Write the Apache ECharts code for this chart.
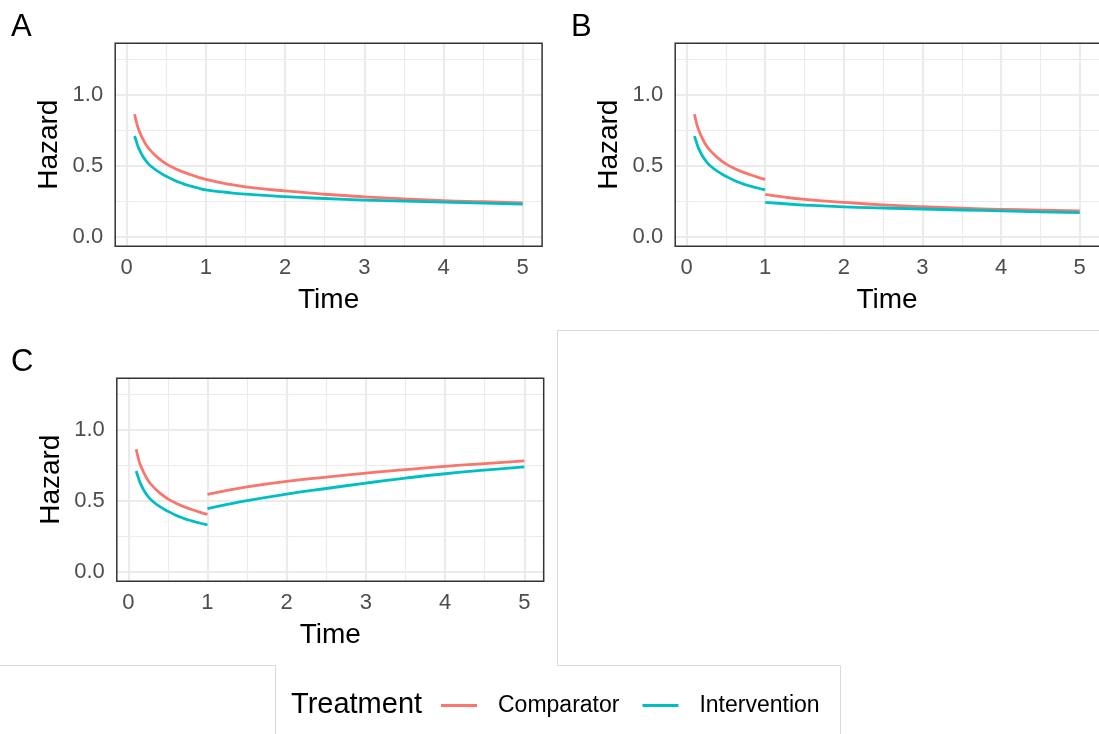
<!DOCTYPE html>
<html><head><meta charset="utf-8">
<script src="https://cdn.jsdelivr.net/npm/echarts@6/dist/echarts.min.js"></script>
<style>html,body{margin:0;padding:0;background:#fff}#c{width:1099px;height:734px}</style>
</head><body><div id="c"></div>
<script>
// ---- data ----
const treatments = ['Comparator', 'Intervention'];
const panelTags = ['A', 'B', 'C'];
const xTicks = [0, 1, 2, 3, 4, 5];
const yTicks = [0.0, 0.5, 1.0];
const xMinor = [0.5, 1.5, 2.5, 3.5, 4.5];
const yMinor = [0.25, 0.75, 1.25];

// first year (identical in every panel)
const tEarly = [0.1, 0.125, 0.15, 0.2, 0.25, 0.3, 0.4, 0.5, 0.6, 0.7, 0.8, 0.9, 1.0];
const compEarly = [0.865, 0.805, 0.758, 0.695, 0.645, 0.610, 0.555, 0.515, 0.485, 0.460, 0.440, 0.422, 0.406];
const intvEarly = [0.711, 0.668, 0.628, 0.572, 0.532, 0.502, 0.460, 0.428, 0.400, 0.378, 0.360, 0.345, 0.331];

// after year 1
const tLate = [1.0, 1.25, 1.5, 2.0, 2.5, 3.0, 3.5, 4.0, 4.5, 5.0];
const compLateA = [0.406, 0.376, 0.353, 0.324, 0.301, 0.283, 0.268, 0.256, 0.248, 0.240];
const intvLateA = [0.331, 0.315, 0.302, 0.284, 0.271, 0.260, 0.252, 0.245, 0.238, 0.232];
const compLateB = [0.300, 0.280, 0.265, 0.244, 0.226, 0.213, 0.203, 0.195, 0.189, 0.183];
const intvLateB = [0.244, 0.234, 0.225, 0.212, 0.204, 0.197, 0.190, 0.184, 0.177, 0.171];
const compLateC = [0.546, 0.575, 0.600, 0.638, 0.668, 0.697, 0.721, 0.744, 0.763, 0.782];
const intvLateC = [0.446, 0.476, 0.503, 0.548, 0.588, 0.626, 0.661, 0.692, 0.718, 0.741];

// ---- style / layout ----
const colors = ['#F8766D', '#00BFC4'];
const FONT = '"Liberation Sans", Arial, Helvetica, sans-serif';
const X_MIN = -0.145, X_MAX = 5.245, Y_MIN = -0.065, Y_MAX = 1.365;
const grids = [
  {left: 115.2, top: 43.2, width: 426.9, height: 203},
  {left: 675.2, top: 43.2, width: 426.9, height: 203},
  {left: 116.8, top: 378.2, width: 426.9, height: 203}
];
const tagPos = [[11, 12], [571, 12], [11, 347]];
const lateData = {A: [compLateA, intvLateA], B: [compLateB, intvLateB], C: [compLateC, intvLateC]};
const early = [compEarly, intvEarly];

const xAxes = [], yAxes = [], series = [], graphics = [];
grids.forEach((g, p) => {
  xAxes.push({
    gridIndex: p, type: 'value', min: X_MIN, max: X_MAX,
    axisLine: {show: false}, splitLine: {show: false},
    axisTick: {show: true, length: 6, customValues: xTicks, lineStyle: {color: '#333333', width: 1.5}},
    axisLabel: {customValues: xTicks, color: '#4D4D4D', fontSize: 22, margin: 11, fontFamily: FONT},
    name: 'Time', nameLocation: 'middle', nameGap: 40,
    nameTextStyle: {fontSize: 28, color: '#000', fontFamily: FONT}
  });
  yAxes.push({
    gridIndex: p, type: 'value', min: Y_MIN, max: Y_MAX,
    axisLine: {show: false}, splitLine: {show: false},
    axisTick: {show: true, length: 6, customValues: yTicks, lineStyle: {color: '#333333', width: 1.5}},
    axisLabel: {customValues: yTicks, color: '#4D4D4D', fontSize: 22, margin: 12, fontFamily: FONT,
      formatter: v => Number(v).toFixed(1)},
    name: 'Hazard', nameLocation: 'middle', nameGap: 52, nameRotate: 90,
    nameTextStyle: {fontSize: 28, color: '#000', fontFamily: FONT}
  });
  // panel grid lines
  const ml = [];
  xMinor.forEach(v => ml.push({xAxis: v, lineStyle: {width: 1.1}}));
  yMinor.forEach(v => ml.push({yAxis: v, lineStyle: {width: 1.1}}));
  xTicks.forEach(v => ml.push({xAxis: v, lineStyle: {width: 2.2}}));
  yTicks.forEach(v => ml.push({yAxis: v, lineStyle: {width: 2.2}}));
  series.push({
    type: 'line', xAxisIndex: p, yAxisIndex: p, data: [], silent: true, z: 1, animation: false,
    markLine: {silent: true, z: 1, symbol: ['none', 'none'], animation: false, label: {show: false},
      lineStyle: {color: '#EBEBEB', type: 'solid'}, data: ml}
  });
  const tag = panelTags[p];
  treatments.forEach((name, k) => {
    const pre = tEarly.map((t, i) => [t, early[k][i]]);
    const post = tLate.map((t, i) => [t, lateData[tag][k][i]]);
    const continuous = post[0][1] === pre[pre.length - 1][1];
    const segs = continuous ? [pre.concat(post.slice(1))] : [pre, post];
    segs.forEach(d => series.push({
      type: 'line', name: name, xAxisIndex: p, yAxisIndex: p, data: d,
      symbol: 'none', showSymbol: false, smooth: true,
      lineStyle: {color: colors[k], width: 2.8, cap: 'butt', join: 'round'}, itemStyle: {color: colors[k]},
      z: 10 + k, animation: false, silent: true
    }));
  });
  // panel border on top
  graphics.push({type: 'rect', z: 100, silent: true,
    shape: {x: g.left, y: g.top, width: g.width, height: g.height},
    style: {fill: 'none', stroke: '#333333', lineWidth: 1.5}});
  graphics.push({type: 'text', z: 100, left: tagPos[p][0], top: tagPos[p][1],
    style: {text: tag, fill: '#000', font: '31px ' + FONT}});
});

// layout frame lines
const frameColor = '#D9D9D9';
graphics.push({type: 'polyline', silent: true, shape: {points: [[0, 665.5], [275.5, 665.5], [275.5, 734]]},
  style: {stroke: frameColor, lineWidth: 1, fill: 'none'}});
graphics.push({type: 'polyline', silent: true, shape: {points: [[1099, 330.5], [557.5, 330.5], [557.5, 665.5], [840.5, 665.5], [840.5, 734]]},
  style: {stroke: frameColor, lineWidth: 1, fill: 'none'}});
// legend title
graphics.push({type: 'text', left: 291, top: 690,
  style: {text: 'Treatment', font: '29px ' + FONT, fill: '#000'}});

const chart = echarts.init(document.getElementById('c'), null, {renderer: 'canvas'});
chart.setOption({
  animation: false,
  backgroundColor: '#ffffff',
  grid: grids.map(g => ({left: g.left, top: g.top, width: g.width, height: g.height, containLabel: false})),
  xAxis: xAxes,
  yAxis: yAxes,
  legend: {
    data: treatments, left: 436, top: 689, orient: 'horizontal',
    icon: 'rect', itemWidth: 36, itemHeight: 3, itemGap: 23,
    textStyle: {fontSize: 23, color: '#000', fontFamily: FONT, padding: [0, 0, 0, 16]},
    selectedMode: false
  },
  graphic: graphics,
  series: series
});
</script></body></html>
